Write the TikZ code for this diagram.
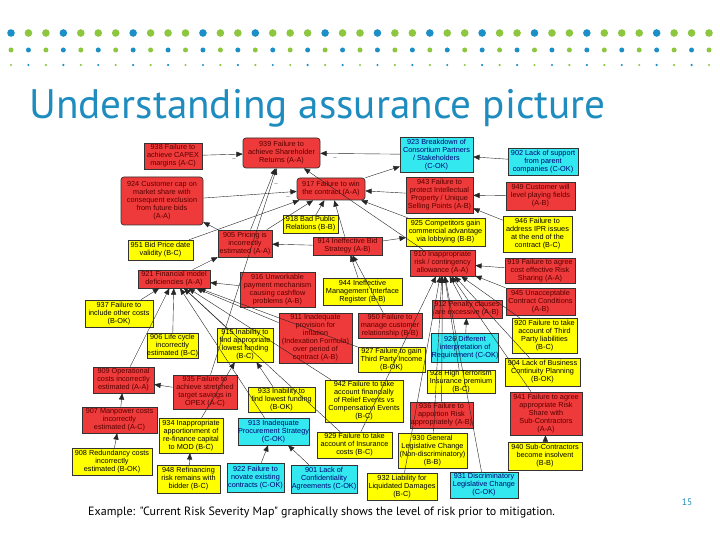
\documentclass[tikz,border=0pt]{standalone}
\usepackage{fontspec}
\setmainfont{Liberation Sans}
\newfontfamily\slidefont{PT Sans}
\usetikzlibrary{arrows}
\definecolor{riskred}{RGB}{238,58,58}
\definecolor{riskyellow}{RGB}{255,255,0}
\definecolor{riskcyan}{RGB}{52,232,240}
\definecolor{dotb}{RGB}{27,143,198}
\definecolor{dotg}{RGB}{141,198,63}
\definecolor{titleblue}{RGB}{30,140,190}
\tikzset{
risk/.style={rectangle, draw=black!80, line width=0.5pt, align=center, inner sep=0pt, font=\fontsize{7.3}{8}\selectfont},
riskA/.style={risk, fill=riskred, text=red!35!black, line width=0.7pt},
riskB/.style={risk, fill=riskyellow, text=black},
riskC/.style={risk, fill=riskcyan, text=blue!45!black},
sz/.style 2 args={minimum width=#1, minimum height=#2},
link/.style={-triangle 45, line width=0.4pt, black!85},
signmark/.style={font=\fontsize{6}{6}\selectfont, inner sep=0pt, text=black!70}
}

\begin{document}
\begin{tikzpicture}[x=1pt, y=-1pt]
\fill[white] (0,0) rectangle (720,540);
\useasboundingbox (0,0) rectangle (720,540);

\foreach \c [count=\i from 0] in {b,g,g,b,g,g,g,b,g,g,g,b,g,g,b,g,g,g,b,g,g,b,g,g,b,g,g,b,g,g,b,g,g,b,g,g,g,b,g,g,g}
  \fill[dot\c] (11+\i*17.45, 33) circle (3.8pt);
\foreach \i in {0,2,...,40} {
  \fill[dotg] (11+\i*17.45, 50) circle (2.5pt);
  \fill[dotg] (11+\i*17.45, 65) circle (1.2pt);
}
\foreach \i in {1,3,...,39} {
  \fill[dotb] (11+\i*17.45, 50) circle (2.5pt);
  \fill[dotb] (11+\i*17.45, 65) circle (1.2pt);
}

\node[anchor=base west, inner sep=0, text=titleblue, font=\slidefont\fontsize{41.2}{42}\selectfont] (title) at (29,119) {Understanding assurance picture};

\node[riskA, sz={58}{26}] (n938) at (173,156) {938 Failure to\\achieve CAPEX\\margins (A-C)};
\node[riskA, sz={77}{30}, rounded corners=3pt] (n939) at (281.5,153) {939 Failure to\\achieve Shareholder\\Returns (A-A)};
\node[riskC, sz={73}{35}] (n923) at (436.5,154.5) {923 Breakdown of\\Consortium Partners\\/ Stakeholders\\(C-OK)};
\node[riskC, sz={70}{27}] (n902) at (543,161.5) {902 Lack of support\\from parent\\companies (C-OK)};
\node[riskA, sz={82}{48}, rounded corners=3pt] (n924) at (162,201) {924 Customer cap on\\market share with\\consequent exclusion\\from future bids\\(A-A)};
\node[riskA, sz={68}{22}, rounded corners=3pt] (n917) at (331,189) {917 Failure to win\\the contract (A-A)};
\node[riskA, sz={67}{36}] (n943) at (439.5,195) {943 Failure to\\protect Intellectual\\Property / Unique\\Selling Points (A-B)};
\node[riskA, sz={69}{28}] (n949) at (540.5,196) {949 Customer will\\level playing fields\\(A-B)};
\node[riskB, sz={55}{18}] (n918) at (310.5,224) {918 Bad Public\\Relations (B-B)};
\node[riskB, sz={79}{28}] (n925) at (445.5,232) {925 Competitors gain\\commercial advantage\\via lobbying (B-B)};
\node[riskB, sz={69}{36}] (n946) at (537.5,234) {946 Failure to\\address IPR issues\\at the end of the\\contract (B-C)};
\node[riskB, sz={65}{20}] (n951) at (160.5,250) {951 Bid Price date\\validity (B-C)};
\node[riskA, sz={54}{27}] (n905) at (245,243.5) {905 Pricing is\\incorrectly\\estimated (A-A)};
\node[riskA, sz={69}{18}] (n914) at (347.5,246) {914 Ineffective Bid\\Strategy (A-B)};
\node[riskA, sz={65}{26}] (n910) at (442.5,263) {910 Inappropriate\\risk / contingency\\allowance (A-A)};
\node[riskA, sz={70}{25}] (n919) at (540,270.5) {919 Failure to agree\\cost effective Risk\\Sharing (A-A)};
\node[riskA, sz={72}{18}] (n921) at (174,279) {921 Financial model\\deficiencies (A-A)};
\node[riskA, sz={75}{35}] (n916) at (277.5,289.5) {916 Unworkable\\payment mechanism\\causing cashflow\\problems (A-B)};
\node[riskB, sz={79}{27}] (n944) at (362.5,291.5) {944 Ineffective\\Management Interface\\Register (B-B)};
\node[riskA, sz={69}{27}] (n945) at (540.5,301.5) {945 Unacceptable\\Contract Conditions\\(A-B)};
\node[riskB, sz={68}{27}] (n937) at (119,313.5) {937 Failure to\\include other costs\\(B-OK)};
\node[riskA, sz={70}{18}] (n912) at (467,309) {912 Penalty clauses\\are excessive (A-B)};
\node[riskA, sz={73}{50}] (n911) at (315.5,338) {911 Inadequate\\provision for\\inflation\\(Indexation Formula)\\over period of\\contract (A-B)};
\node[riskA, sz={64}{25}] (n950) at (390,325.5) {950 Failure to\\manage customer\\relationship (B-B)};
\node[riskB, sz={65}{35}] (n920) at (544.5,335.5) {920 Failure to take\\account of Third\\Party liabilities\\(B-C)};
\node[riskB, sz={51}{25}] (n906) at (172.5,345.5) {906 Life cycle\\incorrectly\\estimated (B-C)};
\node[riskB, sz={56}{34}] (n915) at (245,345) {915 Inability to\\find appropriate\\lowest funding\\(B-C)};
\node[riskC, sz={66}{29}] (n926) at (465,347.5) {926 Different\\interpretation of\\Requirement (C-OK)};
\node[riskB, sz={67}{25}] (n927) at (391.5,359.5) {927 Failure to gain\\Third Party Income\\(B-OK)};
\node[riskB, sz={75}{28}] (n904) at (542.5,372) {904 Lack of Business\\Continuity Planning\\(B-OK)};
\node[riskA, sz={61}{26}] (n909) at (123.5,380) {909 Operational\\costs incorrectly\\estimated (A-A)};
\node[riskA, sz={64}{34}] (n935) at (205,392) {935 Failure to\\achieve stretched\\target savings in\\OPEX (A-C)};
\node[riskB, sz={68}{23}] (n928) at (461,381.5) {928 High Terrorism\\Insurance premium\\(B-C)};
\node[riskB, sz={67}{25}] (n933) at (281.5,399.5) {933 Inability to\\find lowest funding\\(B-OK)};
\node[riskB, sz={78}{42}] (n942) at (364,401) {942 Failure to take\\account financially\\of Relief Events vs\\Compensation Events\\(B-C)};
\node[riskA, sz={75}{26}] (n907) at (119.5,420) {907 Manpower costs\\incorrectly\\estimated (A-C)};
\node[riskB, sz={64}{35}] (n934) at (191,435.5) {934 Inappropriate\\apportionment of\\re-finance capital\\to MOD (B-C)};
\node[riskC, sz={71}{27}] (n913) at (273.5,431.5) {913 Inadequate\\Procurement Strategy\\(C-OK)};
\node[riskA, sz={63}{26}] (n936) at (441.5,415) {936 Failure to\\apportion Risk\\appropriately (A-B)};
\node[riskA, sz={72}{43}] (n941) at (546,413.5) {941 Failure to agree\\appropriate Risk\\Share with\\Sub-Contractors\\(A-A)};
\node[riskB, sz={75}{26}] (n929) at (354.5,445) {929 Failure to take\\account of Insurance\\costs (B-C)};
\node[riskB, sz={69}{35}] (n930) at (432.5,450.5) {930 General\\Legislative Change\\(Non-discriminatory)\\(B-B)};
\node[riskB, sz={80}{27}] (n908) at (112,461.5) {908 Redundancy costs\\incorrectly\\estimated (B-OK)};
\node[riskB, sz={74}{28}] (n940) at (545,456) {940 Sub-Contractors\\become insolvent\\(B-B)};
\node[riskB, sz={63}{28}] (n948) at (188.5,479) {948 Refinancing\\risk remains with\\bidder (B-C)};
\node[riskC, sz={57}{29}] (n922) at (255.5,477.5) {922 Failure to\\novate existing\\contracts (C-OK)};
\node[riskC, sz={66}{28}] (n901) at (324,479) {901 Lack of\\Confidentiality\\Agreements (C-OK)};
\node[riskB, sz={70}{27}] (n932) at (402,486.5) {932 Liability for\\Liquidated Damages\\(B-C)};
\node[riskC, sz={68}{26}] (n931) at (484,485) {931 Discriminatory\\Legislative Change\\(C-OK)};

\node[signmark] (m1) at (234,160) {--};
\node[signmark] (m2) at (335,159) {--};
\node[signmark] (m3) at (276,185) {--};
\node[signmark] (m4) at (288,198) {--};

\draw[link] (n938) -- (n939);
\draw[link] (n923) -- (n939);
\draw[link] (n905) -- (n939);
\draw[link] (n935) -- (n939);
\draw[link] (n910) -- (n939);
\draw[link] (n924) -- (n917);
\draw[link] (n951) -- (n917);
\draw[link] (n905) -- (n917);
\draw[link] (n918) -- (n917);
\draw[link] (n914) -- (n917);
\draw[link] (n943) -- (n917);
\draw[link] (n925) -- (n917);
\draw[link] (n917) -- (n923);
\draw[link] (n902) -- (n923);
\draw[link] (n949) -- (n943);
\draw[link] (n946) -- (n943);
\draw[link] (n905) -- (n924);
\draw[link] (n921) -- (n905);
\draw[link] (n914) -- (n905);
\draw[link] (n914) -- (n925);
\draw[link] (n944) -- (n914);
\draw[link] (n950) -- (n914);
\draw[link] (n919) -- (n910);
\draw[link] (n945) -- (n910);
\draw[link] (n912) -- (n910);
\draw[link] (n926) -- (n912);
\draw[link] (n928) -- (n910);
\draw[link] (n936) -- (n910);
\draw[link] (n930) -- (n910);
\draw[link] (n932) -- (n910);
\draw[link] (n931) -- (n910);
\draw[link] (n929) -- (n910);
\draw[link] (n920) -- (n910);
\draw[link] (n941) -- (n910);
\draw[link] (n904) -- (n910);
\draw[link] (n916) -- (n921);
\draw[link] (n937) -- (n921);
\draw[link] (n909) -- (n921);
\draw[link] (n906) -- (n921);
\draw[link] (n915) -- (n921);
\draw[link] (n911) -- (n921);
\draw[link] (n927) -- (n921);
\draw[link] (n929) -- (n921);
\draw[link] (n942) -- (n921);
\draw[link] (n913) -- (n921);
\draw[link] (n933) -- (n915);
\draw[link] (n934) -- (n915);
\draw[link] (n935) -- (n909);
\draw[link] (n907) -- (n909);
\draw[link] (n908) -- (n907);
\draw[link] (n948) -- (n934);
\draw[link] (n922) -- (n913);
\draw[link] (n901) -- (n913);
\draw[link] (n940) -- (n941);

\node[anchor=base west, inner sep=0, font=\slidefont\fontsize{12}{13}\selectfont] (caption) at (88,515) {Example: "Current Risk Severity Map" graphically shows the level of risk prior to mitigation.};
\node[inner sep=0, text=titleblue, font=\slidefont\fontsize{9.5}{10}\selectfont] (page) at (687,502) {15};
\end{tikzpicture}
\end{document}
